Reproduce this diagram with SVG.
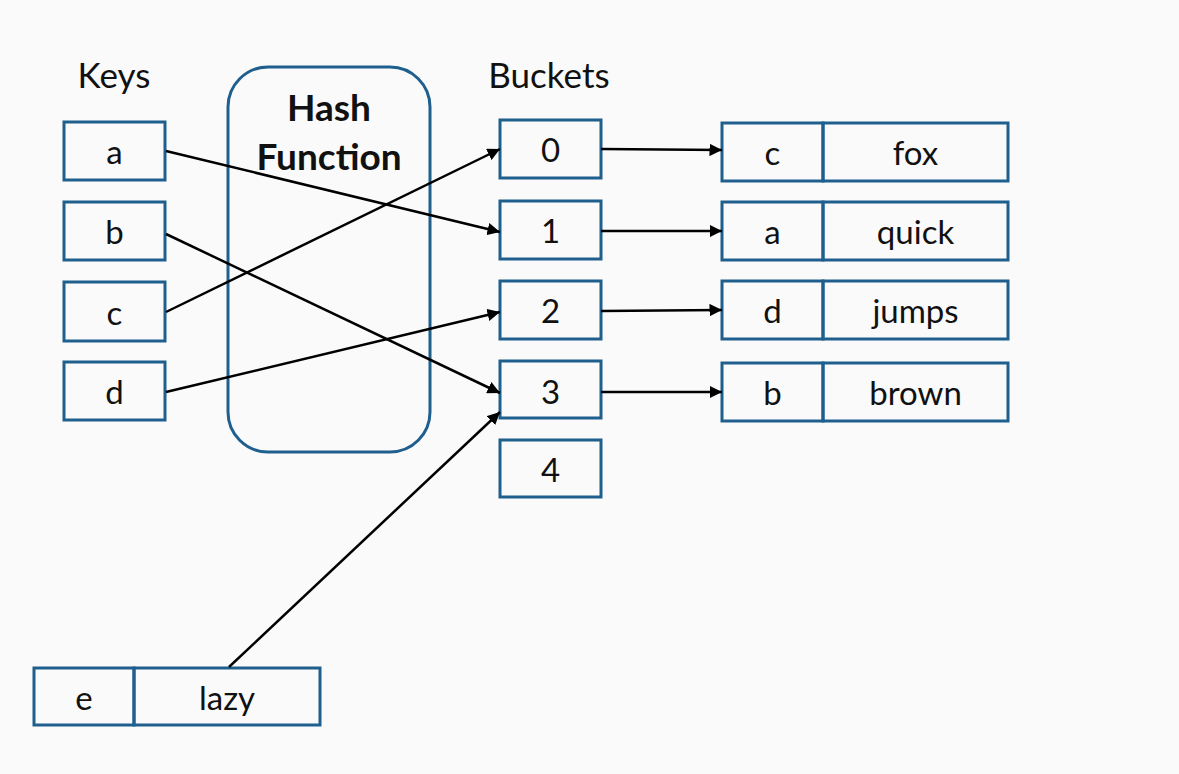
<svg xmlns="http://www.w3.org/2000/svg" width="1179" height="774" viewBox="0 0 1179 774">
<defs>
<style>
.b{fill:none;stroke:#1f5f8e;stroke-width:3}
.t{font-family:"Lato","Liberation Sans",sans-serif;font-size:33px;fill:#111;text-anchor:middle;dominant-baseline:central}
.l{font-size:35px}
.h{font-family:"Lato","Liberation Sans",sans-serif;font-size:37px;font-weight:bold;fill:#111;text-anchor:middle}
.c{stroke:#000;stroke-width:2.5;fill:none;marker-end:url(#ah)}
</style>
<marker id="ah" viewBox="0 0 10 10" refX="10" refY="5" markerWidth="5" markerHeight="5" orient="auto" markerUnits="strokeWidth">
<path d="M0,0 L10,5 L0,10 z" fill="#000"/>
</marker>
</defs>
<rect width="1179" height="774" fill="#fafafa"/>
<text class="t l" x="114" y="74">Keys</text>
<text class="t l" x="549" y="74">Buckets</text>
<g id="hash"><rect class="b" x="228" y="67" width="202" height="385" rx="40"/>
<text class="h" x="329" y="121">Hash</text><text class="h" x="329" y="170">Function</text></g>
<g id="key-a"><rect class="b" x="64" y="122" width="101" height="58"/><text class="t" x="114.5" y="151">a</text></g>
<g id="key-b"><rect class="b" x="64" y="202" width="101" height="58"/><text class="t" x="114.5" y="231">b</text></g>
<g id="key-c"><rect class="b" x="64" y="282" width="101" height="59"/><text class="t" x="114.5" y="312">c</text></g>
<g id="key-d"><rect class="b" x="64" y="362" width="101" height="58"/><text class="t" x="114.5" y="391">d</text></g>
<g id="bucket-0"><rect class="b" x="500" y="120" width="101" height="58"/><text class="t" x="550.5" y="149">0</text></g>
<g id="bucket-1"><rect class="b" x="500" y="201" width="101" height="58"/><text class="t" x="550.5" y="230">1</text></g>
<g id="bucket-2"><rect class="b" x="500" y="281" width="101" height="58"/><text class="t" x="550.5" y="310">2</text></g>
<g id="bucket-3"><rect class="b" x="500" y="361" width="101" height="57"/><text class="t" x="550.5" y="391">3</text></g>
<g id="bucket-4"><rect class="b" x="500" y="440" width="101" height="57"/><text class="t" x="550.5" y="469">4</text></g>
<g id="entry-c-fox"><rect class="b" x="722" y="123" width="101" height="58"/><rect class="b" x="823" y="123" width="185" height="58"/><text class="t" x="772.5" y="152">c</text><text class="t" x="915.5" y="152">fox</text></g>
<g id="entry-a-quick"><rect class="b" x="722" y="202" width="101" height="58"/><rect class="b" x="823" y="202" width="185" height="58"/><text class="t" x="772.5" y="231">a</text><text class="t" x="915.5" y="231">quick</text></g>
<g id="entry-d-jumps"><rect class="b" x="722" y="281" width="101" height="58"/><rect class="b" x="823" y="281" width="185" height="58"/><text class="t" x="772.5" y="310">d</text><text class="t" x="915.5" y="310">jumps</text></g>
<g id="entry-b-brown"><rect class="b" x="722" y="363" width="101" height="58"/><rect class="b" x="823" y="363" width="185" height="58"/><text class="t" x="772.5" y="392">b</text><text class="t" x="915.5" y="392">brown</text></g>
<g id="entry-e-lazy"><rect class="b" x="34" y="668" width="100" height="57"/><rect class="b" x="134" y="668" width="186" height="57"/><text class="t" x="84" y="697">e</text><text class="t" x="227" y="697">lazy</text></g>
<g id="connectors">
<line class="c" x1="166" y1="151" x2="500" y2="232"/>
<line class="c" x1="166" y1="234" x2="500" y2="393"/>
<line class="c" x1="166" y1="312" x2="500" y2="149"/>
<line class="c" x1="166" y1="392" x2="500" y2="312"/>
<line class="c" x1="229" y1="667" x2="500" y2="412"/>
<line class="c" x1="601" y1="149" x2="722" y2="150"/>
<line class="c" x1="601" y1="231" x2="722" y2="231"/>
<line class="c" x1="601" y1="311" x2="722" y2="310"/>
<line class="c" x1="601" y1="392" x2="722" y2="392"/>
</g>
</svg>
